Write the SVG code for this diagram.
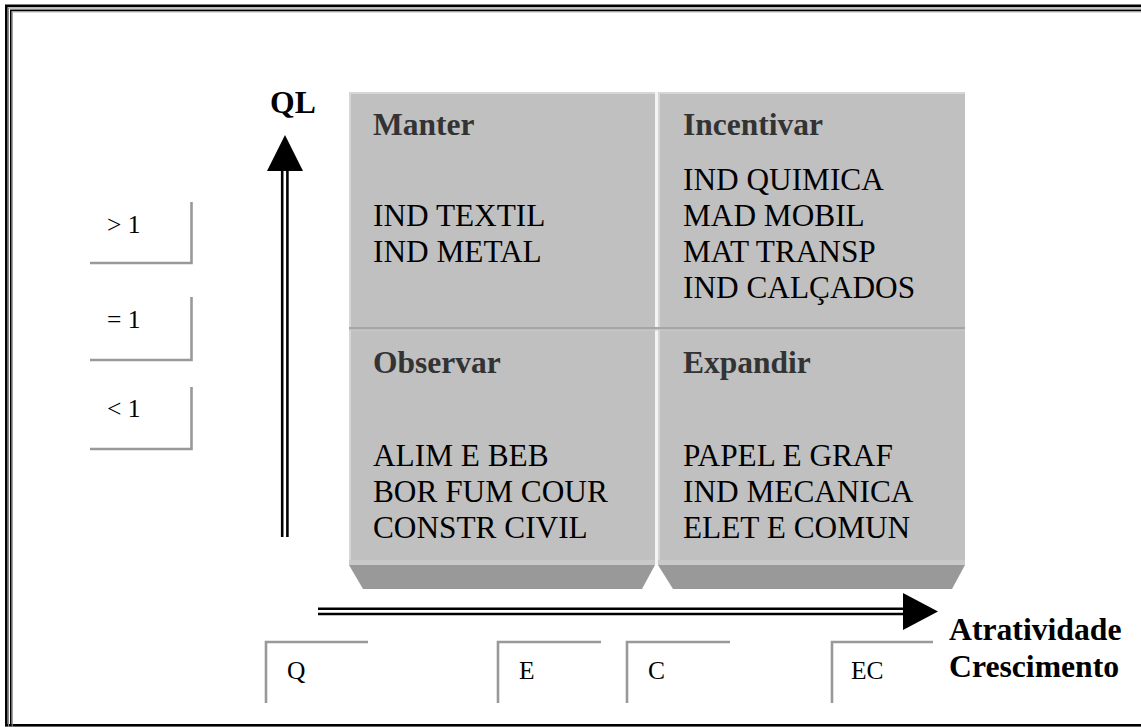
<svg xmlns="http://www.w3.org/2000/svg" width="1141" height="727" viewBox="0 0 1141 727">
  <style>
    .frame-dark { fill: none; stroke: #000; }
    .frame-grey { fill: none; stroke: #8a8a8a; }
    .cell { fill: #c0c0c0; }
    .edge-light { fill: #d6d6d6; }
    .bevel { fill: #999999; }
    .head { font-family: "Liberation Serif", "Times New Roman", serif; font-weight: bold; font-size: 31.5px; fill: #333; }
    .item { font-family: "Liberation Serif", "Times New Roman", serif; font-size: 31.3px; fill: #000; }
    .axis-label { font-family: "Liberation Serif", "Times New Roman", serif; font-weight: bold; font-size: 31.7px; fill: #000; }
    .tag { font-family: "Liberation Serif", "Times New Roman", serif; font-size: 25.5px; fill: #000; }
    .tag-edge { fill: none; stroke: #999; stroke-width: 2.6; }
    .rail { stroke: #000; stroke-width: 2.6; fill: none; }
  </style>

  <rect width="1141" height="727" fill="#fff"/>

  <!-- outer double frame -->
  <g id="frame">
    <rect class="frame-dark" x="6.3" y="5.8" width="1160" height="719.5" stroke-width="2.6"/>
    <rect class="frame-grey" x="8.5" y="8" width="1160" height="720" stroke-width="1"/>
    <rect class="frame-dark" x="10.8" y="10.3" width="1160" height="714.5" stroke-width="1.6"/>
    <rect class="frame-grey" x="12.3" y="11.8" width="1160" height="720" stroke-width="1"/>
  </g>

  <!-- quadrant blocks -->
  <g id="quadrants">
    <!-- left column -->
    <rect class="cell" x="349" y="92" width="306" height="473"/>
    <rect class="edge-light" x="349" y="92" width="306" height="2"/>
    <rect class="edge-light" x="349" y="92" width="2" height="473"/>
    <!-- right column -->
    <rect class="cell" x="658" y="92" width="307" height="473"/>
    <rect class="edge-light" x="658" y="92" width="307" height="2"/>
    <rect class="edge-light" x="658" y="92" width="2" height="473"/>
    <!-- column gap -->
    <rect x="655" y="92" width="3" height="473" fill="#f4f4f4"/>
    <!-- row divider -->
    <rect x="349" y="327" width="616" height="2.5" fill="#a6a6a6"/>
    <rect x="349" y="329.5" width="616" height="1" fill="#cccccc"/>
    <!-- lower edge highlight -->
    <rect x="349" y="560" width="306" height="5" fill="#c9c9c9"/>
    <rect x="658" y="560" width="307" height="5" fill="#c9c9c9"/>
    <!-- bottom bevels -->
    <polygon class="bevel" points="349,565 655,565 642,589 363,589"/>
    <polygon class="bevel" points="658,565 965,565 952,589 673,589"/>
  </g>

  <g id="q-manter">
    <text class="head" x="373" y="135">Manter</text>
    <text class="item" x="373" y="226">IND TEXTIL</text>
    <text class="item" x="373" y="262">IND METAL</text>
  </g>
  <g id="q-incentivar">
    <text class="head" x="683" y="135">Incentivar</text>
    <text class="item" x="683" y="190">IND QUIMICA</text>
    <text class="item" x="683" y="226">MAD MOBIL</text>
    <text class="item" x="683" y="262">MAT TRANSP</text>
    <text class="item" x="683" y="298">IND CALÇADOS</text>
  </g>
  <g id="q-observar">
    <text class="head" x="373" y="373">Observar</text>
    <text class="item" x="373" y="466">ALIM E BEB</text>
    <text class="item" x="373" y="502">BOR FUM COUR</text>
    <text class="item" x="373" y="538">CONSTR CIVIL</text>
  </g>
  <g id="q-expandir">
    <text class="head" x="683" y="373">Expandir</text>
    <text class="item" x="683" y="466">PAPEL E GRAF</text>
    <text class="item" x="683" y="502">IND MECANICA</text>
    <text class="item" x="683" y="538">ELET E COMUN</text>
  </g>

  <!-- axes -->
  <g id="connectors">
    <line class="rail" x1="282.2" y1="170" x2="282.2" y2="537"/>
    <line class="rail" x1="287.4" y1="170" x2="287.4" y2="537"/>
    <polygon points="285,135 303,171 267,171" fill="#000"/>
    <line class="rail" x1="318" y1="608.7" x2="905" y2="608.7"/>
    <line class="rail" x1="318" y1="614" x2="905" y2="614"/>
    <polygon points="903,593 938,611.5 903,630" fill="#000"/>
  </g>

  <g id="axis-ql">
    <text class="axis-label" x="293" y="113" text-anchor="middle">QL</text>
  </g>
  <g id="axis-atratividade">
    <text class="axis-label" x="949" y="640">Atratividade</text>
    <text class="axis-label" x="949" y="677">Crescimento</text>
  </g>

  <!-- QL level tags -->
  <g id="tag-gt1">
    <path class="tag-edge" d="M90,263 H191.5 V202"/>
    <text class="tag" x="107" y="233">&gt; 1</text>
  </g>
  <g id="tag-eq1">
    <path class="tag-edge" d="M90,360 H191.5 V297"/>
    <text class="tag" x="107" y="328">= 1</text>
  </g>
  <g id="tag-lt1">
    <path class="tag-edge" d="M90,449 H191.5 V387"/>
    <text class="tag" x="107" y="417">&lt; 1</text>
  </g>

  <!-- growth tags -->
  <g id="tag-q">
    <path class="tag-edge" d="M266,703 V642 H368"/>
    <text class="tag" x="287" y="679">Q</text>
  </g>
  <g id="tag-e">
    <path class="tag-edge" d="M498,703 V642 H601"/>
    <text class="tag" x="519" y="679">E</text>
  </g>
  <g id="tag-c">
    <path class="tag-edge" d="M627,703 V642 H730"/>
    <text class="tag" x="648" y="679">C</text>
  </g>
  <g id="tag-ec">
    <path class="tag-edge" d="M832,703 V642 H933"/>
    <text class="tag" x="851" y="679">EC</text>
  </g>
</svg>
